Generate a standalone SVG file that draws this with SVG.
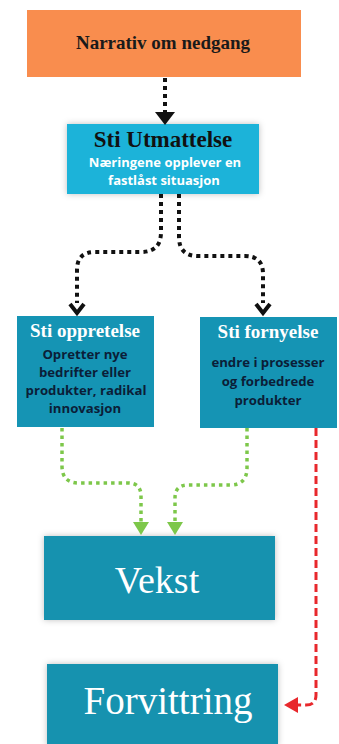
<svg xmlns="http://www.w3.org/2000/svg" width="339" height="744" viewBox="0 0 339 744">
<defs>
<filter id="sh" x="-10%" y="-20%" width="120%" height="140%">
<feDropShadow dx="0" dy="0" stdDeviation="3" flood-color="#000" flood-opacity="0.25"/>
</filter>
<style>
.ttl{font-family:"Liberation Serif",serif;font-weight:bold;text-anchor:middle}
.sub{font-family:"Open Sans","Noto Sans",sans-serif;font-weight:bold;text-anchor:middle}
.big{font-family:"Liberation Serif",serif;fill:#fff;text-anchor:middle}
.blk{fill:none;stroke:#111;stroke-width:4;stroke-dasharray:4 4}
.grn{fill:none;stroke:#7DC74A;stroke-width:3.5;stroke-dasharray:3.5 4}
.red{fill:none;stroke:#E8282C;stroke-width:3;stroke-dasharray:8 4}
</style>
</defs>
<rect width="339" height="744" fill="#fff"/>
<g id="narrativ">
<rect x="27" y="10" width="274" height="67" fill="#F98D4E"/>
<text x="163" y="49" class="ttl" font-size="19" fill="#1a1a1a">Narrativ om nedgang</text>
</g>
<g id="utmattelse">
<rect x="67" y="124" width="192" height="70" fill="#1CB3D9" filter="url(#sh)"/>
<text x="163" y="147" class="ttl" font-size="23" fill="#111">Sti Utmattelse</text>
<text x="165" y="167" class="sub" font-size="13" fill="#fff">Næringene opplever en</text>
<text x="164" y="185" class="sub" font-size="13" fill="#fff">fastlåst situasjon</text>
</g>
<g id="oppretelse">
<rect x="17" y="316" width="137" height="111" fill="#1594B4"/>
<text x="85" y="337" class="ttl" font-size="19" fill="#fff">Sti oppretelse</text>
<text x="85" y="359" class="sub" font-size="13.2" fill="#0B1E38">Opretter nye</text>
<text x="85" y="377" class="sub" font-size="13.2" fill="#0B1E38">bedrifter eller</text>
<text x="86" y="395" class="sub" font-size="13.2" fill="#0B1E38">produkter, radikal</text>
<text x="85" y="413" class="sub" font-size="13.2" fill="#0B1E38">innovasjon</text>
</g>
<g id="fornyelse">
<rect x="200" y="317" width="137" height="111" fill="#1594B4"/>
<text x="268" y="338" class="ttl" font-size="19" fill="#fff">Sti fornyelse</text>
<text x="268" y="367" class="sub" font-size="13.2" fill="#0B1E38">endre i prosesser</text>
<text x="268" y="386" class="sub" font-size="13.2" fill="#0B1E38">og forbedrede</text>
<text x="268" y="405" class="sub" font-size="13.2" fill="#0B1E38">produkter</text>
</g>
<g id="vekst">
<rect x="44" y="536" width="231" height="84" fill="#1592AF" filter="url(#sh)"/>
<text x="157" y="593" class="big" font-size="38">Vekst</text>
</g>
<g id="forvittring">
<rect x="47" y="664" width="231" height="82" fill="#1592AF" filter="url(#sh)"/>
<text x="168" y="714" class="big" font-size="39">Forvittring</text>
</g>
<g id="connectors">
<path class="blk" d="M165,78 V112"/>
<path d="M155,112 L175,112 L165,125 Z" fill="#111"/>
<path class="blk" d="M161,194 V232 Q161,252 141,252 H95 Q77,252 77,270 V303"/>
<polyline points="70,304 77,313 84,304" fill="none" stroke="#111" stroke-width="4"/>
<path class="blk" d="M179,194 V237 Q179,256 198,256 H245 Q263,256 263,274 V303"/>
<polyline points="256,304 263,313 270,304" fill="none" stroke="#111" stroke-width="4"/>
<path class="grn" d="M62,428 V466 Q62,483 79,483 H128 Q141,483 141,496 V522"/>
<path d="M133,522 L149,522 L141,535 Z" fill="#7DC74A"/>
<path class="grn" d="M247,428 V468 Q247,485 230,485 H188 Q175,485 175,498 V522"/>
<path d="M167,522 L183,522 L175,535 Z" fill="#7DC74A"/>
<path class="red" d="M316,428 V695 Q316,705 306,705 H297"/>
<path d="M298,697 L298,713 L284,705 Z" fill="#E8282C"/>
</g>
</svg>
